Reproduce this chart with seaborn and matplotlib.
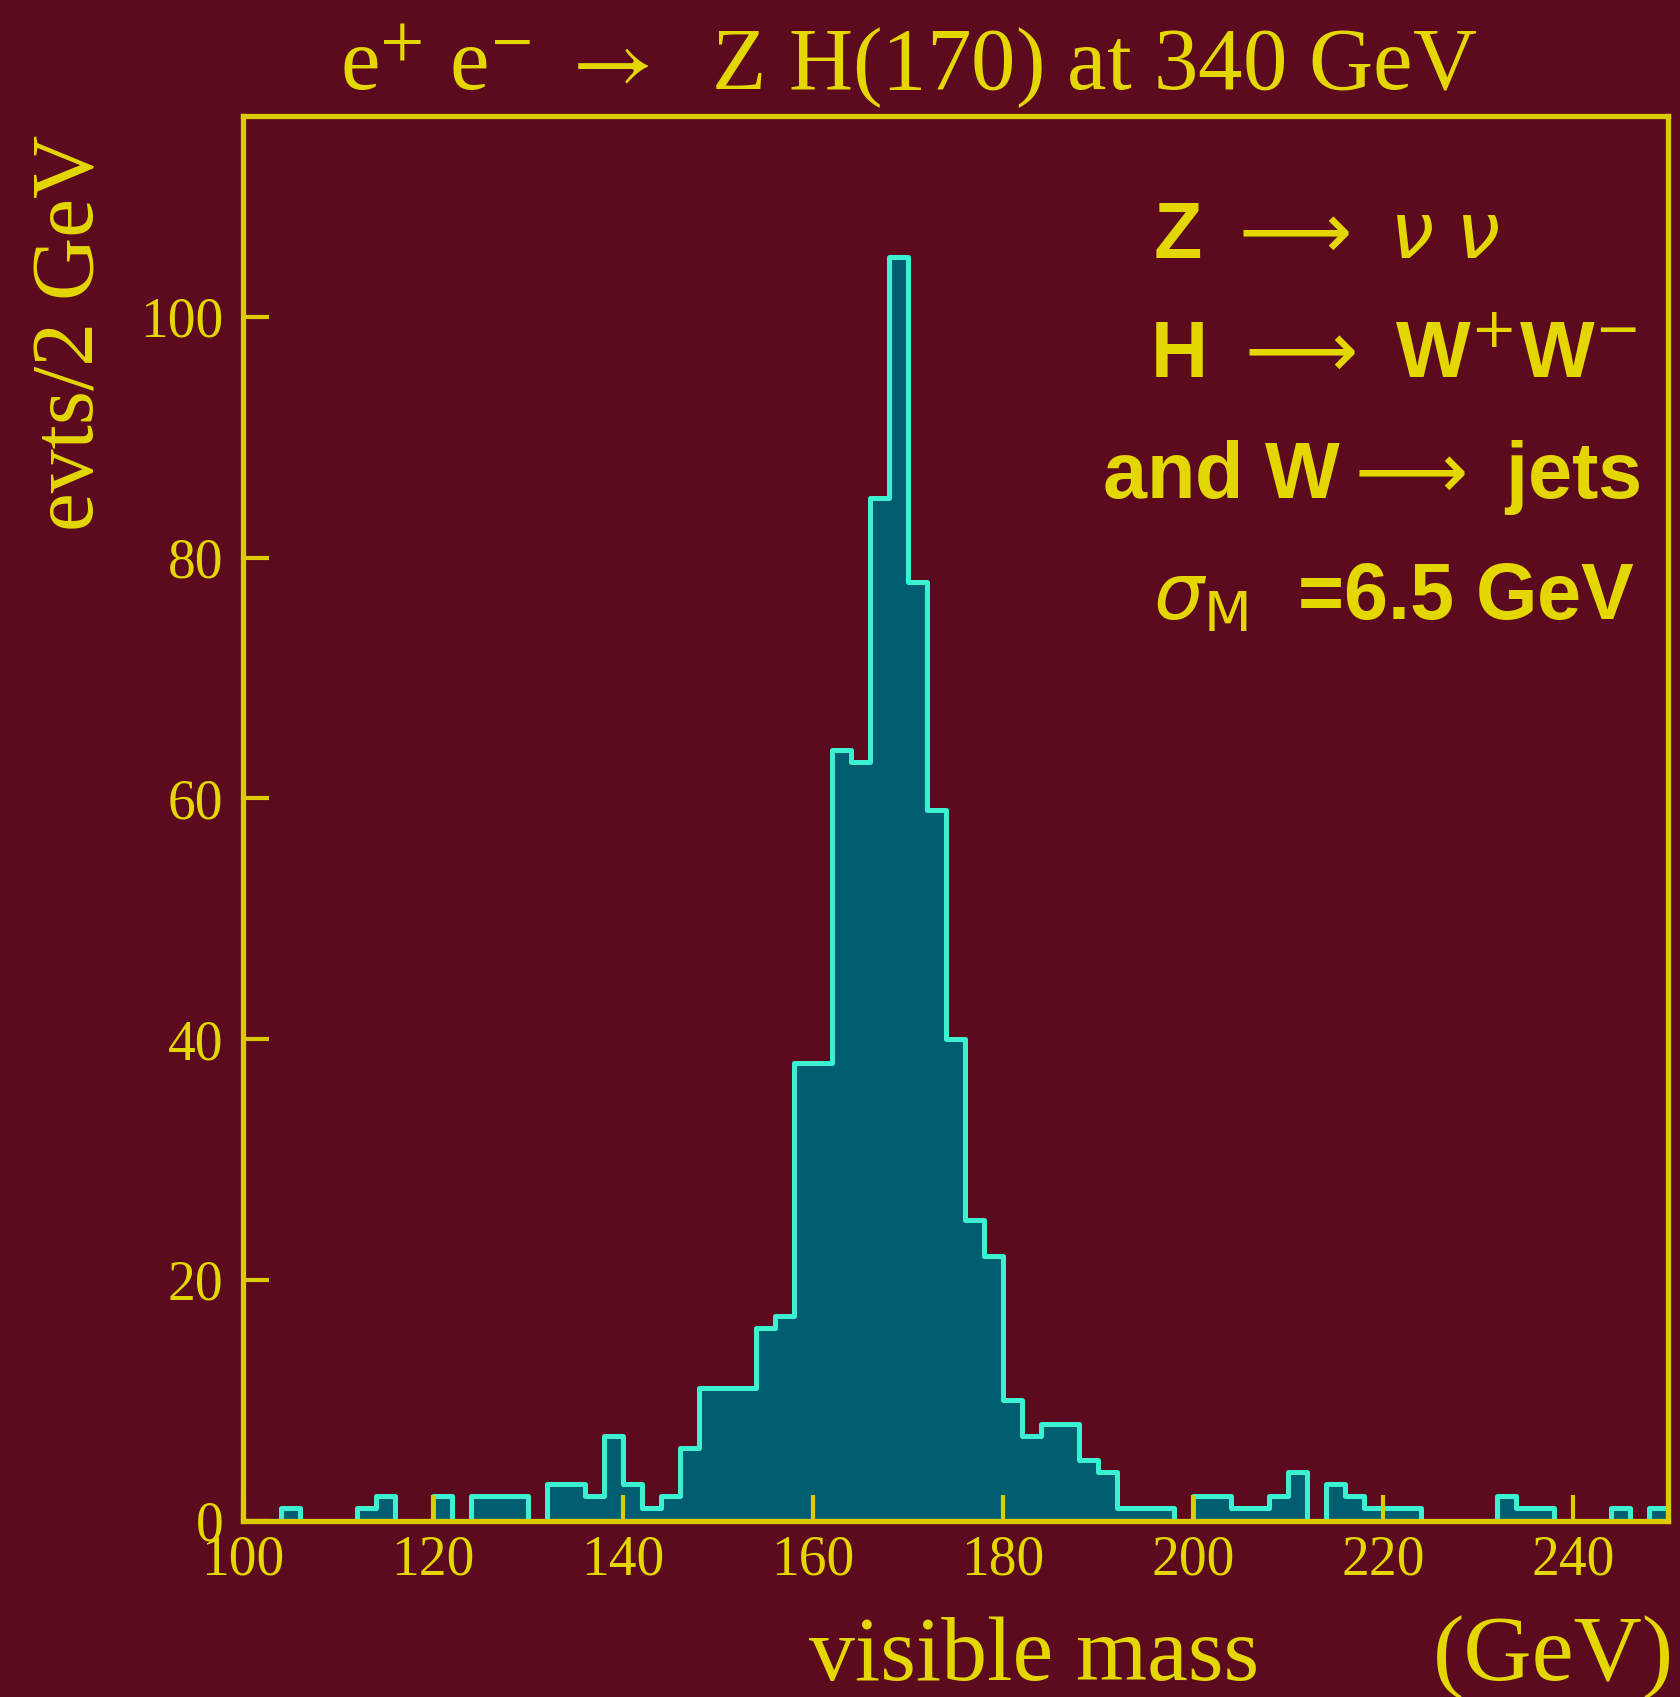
import numpy as np
import pandas as pd
import matplotlib
matplotlib.use("Agg")
import matplotlib.pyplot as plt
import seaborn as sns

# ---- data (events per 2 GeV bin, 100..250 GeV) ----
bin_edges = list(range(100, 252, 2))
counts = [0, 0, 1, 0, 0, 0, 1, 2, 0, 0,        # 100-118
          2, 0, 2, 2, 2, 0, 3, 3, 2, 7,        # 120-138
          3, 1, 2, 6, 11, 11, 11, 16, 17, 38,  # 140-158
          38, 64, 63, 85, 105, 78, 59, 40, 25, 22,  # 160-178
          10, 7, 8, 8, 5, 4, 1, 1, 1, 0,       # 180-198
          2, 2, 1, 1, 2, 4, 0, 3, 2, 1,        # 200-218
          1, 1, 0, 0, 0, 0, 2, 1, 1, 0,        # 220-238
          0, 0, 1, 0, 1]                       # 240-248
x_ticks = [100, 120, 140, 160, 180, 200, 220, 240]
y_ticks = [0, 20, 40, 60, 80, 100]

title = r"e$^{+}$ e$^{-}$ $\rightarrow$  Z H(170) at 340 GeV"
ylabel = "evts/2 GeV"
xlabel_main = "visible mass"
xlabel_unit = "(GeV)"
notes = [r"Z $\longrightarrow$ $\nu$ $\nu$",
         r"H $\longrightarrow$ W$^{+}$W$^{-}$",
         r"and W$\longrightarrow$ jets",
         r"$\sigma_{\mathrm{M}}$  =6.5 GeV"]

BG = "#5c0a1e"
FILL = "#005e70"
EDGE = "#3cf0d2"
YEL = "#e4d700"
AXY = "#dccb00"

df = pd.DataFrame({"mass": np.array(bin_edges[:-1]) + 1.0, "n": counts})

W, H = 1681, 1697
fig = plt.figure(figsize=(W / 100, H / 100), dpi=100, facecolor=BG)
ax = fig.add_axes([243 / W, 1 - 1520.5 / H, (1668 - 243) / W, (1520.5 - 116) / H])
ax.set_facecolor(BG)

sns.histplot(data=df, x="mass", weights="n", bins=bin_edges, element="step",
             fill=True, color=FILL, edgecolor=EDGE, linewidth=3.6, alpha=1,
             ax=ax)

ax.set_xlim(100, 250)
ax.set_ylim(0, 116.7)
ax.set_xlabel("")
ax.set_ylabel("")
ax.set_xticks(x_ticks)
ax.set_yticks(y_ticks)
ax.grid(False)
for s in ax.spines.values():
    s.set_color(AXY)
    s.set_linewidth(3.8)
    s.set_zorder(5)
ax.tick_params(direction="in", length=19, width=3, color=AXY,
               labelcolor=YEL, labelsize=40)
ax.tick_params(axis="x", pad=10)
ax.tick_params(axis="y", pad=14)
for lab in ax.get_xticklabels() + ax.get_yticklabels():
    lab.set_family("Liberation Serif")

fig.text(909 / W, 1 - 67 / H, title, color=YEL, fontsize=64,
         family="Liberation Serif", math_fontfamily="stix",
         ha="center", va="center")
fig.text(72 / W, 1 - 333 / H, ylabel, color=YEL, fontsize=63,
         family="Liberation Serif", rotation=90, ha="center", va="center")
fig.text(1034 / W, 1 - 1680 / H, xlabel_main, color=YEL, fontsize=66,
         family="Liberation Serif", ha="center", va="baseline")
fig.text(1674 / W, 1 - 1680 / H, xlabel_unit, color=YEL, fontsize=68,
         family="Liberation Serif", ha="right", va="baseline")

note_x = [1153, 1150, 1102, 1153]
note_y = [258, 377, 498, 619]
for t, nx, ny in zip(notes, note_x, note_y):
    fig.text(nx / W, 1 - ny / H, t, color=YEL, fontsize=57,
             family="Liberation Sans", weight="bold",
             math_fontfamily="dejavusans", ha="left", va="baseline")

fig.savefig("out.png", dpi=100, facecolor=BG)
